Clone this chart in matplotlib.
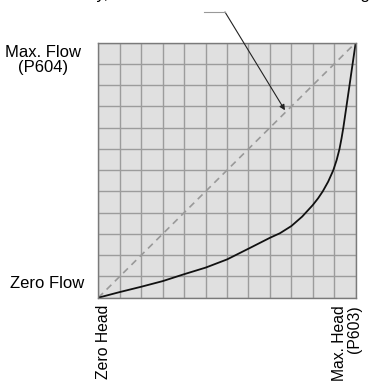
import matplotlib
matplotlib.use('Agg')
import matplotlib.pyplot as plt
from matplotlib.lines import Line2D
import numpy as np

plt.rcParams['font.family'] = ['Liberation Sans', 'DejaVu Sans']

# ========== DATA ==========
# head (fraction of max head) vs flow (fraction of max flow)
head = [0, 0.083, 0.167, 0.25, 0.333, 0.417, 0.5, 0.583, 0.667, 0.706, 0.75,
        0.792, 0.833, 0.854, 0.872, 0.893, 0.913, 0.926, 0.937, 0.945, 0.952,
        0.964, 0.976, 0.988, 1.0]
flow = [0, 0.022, 0.043, 0.065, 0.092, 0.118, 0.15, 0.192, 0.235, 0.253, 0.281,
        0.318, 0.363, 0.39, 0.417, 0.455, 0.5, 0.54, 0.583, 0.625, 0.667,
        0.75, 0.833, 0.917, 1.0]
linear_head = [0, 1]
linear_flow = [0, 1]
n_cells = 12
arrow_at = (0.725, 0.735)

y_labels = ['Max. Flow\n(P604)', 'Zero Flow']
x_labels = ['Zero Head', 'Max. Head\n(P603)']
top_note = 'Theoretically, flow follows the dashed line setting'

# ========== FIGURE ==========
fig = plt.figure(figsize=(3.72, 3.82), dpi=100)
ax = fig.add_axes([98.3 / 372, (382 - 297.7) / 382, 257.4 / 372, 255 / 382])
ax.set_facecolor('#e0e0e0')
ax.set_xlim(0, 1)
ax.set_ylim(0, 1)
grid = np.arange(n_cells + 1) / n_cells
ax.set_xticks(grid)
ax.set_yticks(grid)
ax.tick_params(length=0, labelbottom=False, labelleft=False)
ax.grid(color='#9c9c9c', lw=1.0)
ax.set_axisbelow(True)
for s in ax.spines.values():
    s.set_color('#7a7a7a')
    s.set_linewidth(1.0)

ax.plot(linear_head, linear_flow, color='#999999', lw=1.2, ls=(0, (4, 3)))
ax.plot(head, flow, color='#111111', lw=1.3, solid_capstyle='round',
        solid_joinstyle='round')

# leader line + arrow
fig.add_artist(Line2D([204 / 372, 225 / 372], [(382 - 12) / 382] * 2,
                      color='#999999', lw=0.8))
ax.annotate('', xy=arrow_at, xycoords='data',
            xytext=(225, 382 - 12), textcoords='figure pixels',
            arrowprops=dict(arrowstyle='-|>', color='#222222', lw=0.8,
                            mutation_scale=8, shrinkA=0, shrinkB=0))

# labels
fig.text(43 / 372, 1 - 60 / 382, y_labels[0], ha='center', va='center',
         fontsize=12, linespacing=1.05)
fig.text(47 / 372, 1 - 283 / 382, y_labels[1], ha='center', va='center', fontsize=12)
fig.text(104 / 372, 1 - 305 / 382, x_labels[0], ha='center', va='top',
         rotation=90, fontsize=11.3)
fig.text(347 / 372, 1 - 305 / 382, x_labels[1], ha='center', va='top',
         rotation=90, fontsize=11.3, linespacing=1.05, multialignment='right')
# note above the chart, cut off by the top edge as in the source
fig.text(370 / 372, 1 + 0.5 / 382, top_note, ha='right', va='baseline', fontsize=12)

plt.savefig('out.png', dpi=100)
plt.close()
